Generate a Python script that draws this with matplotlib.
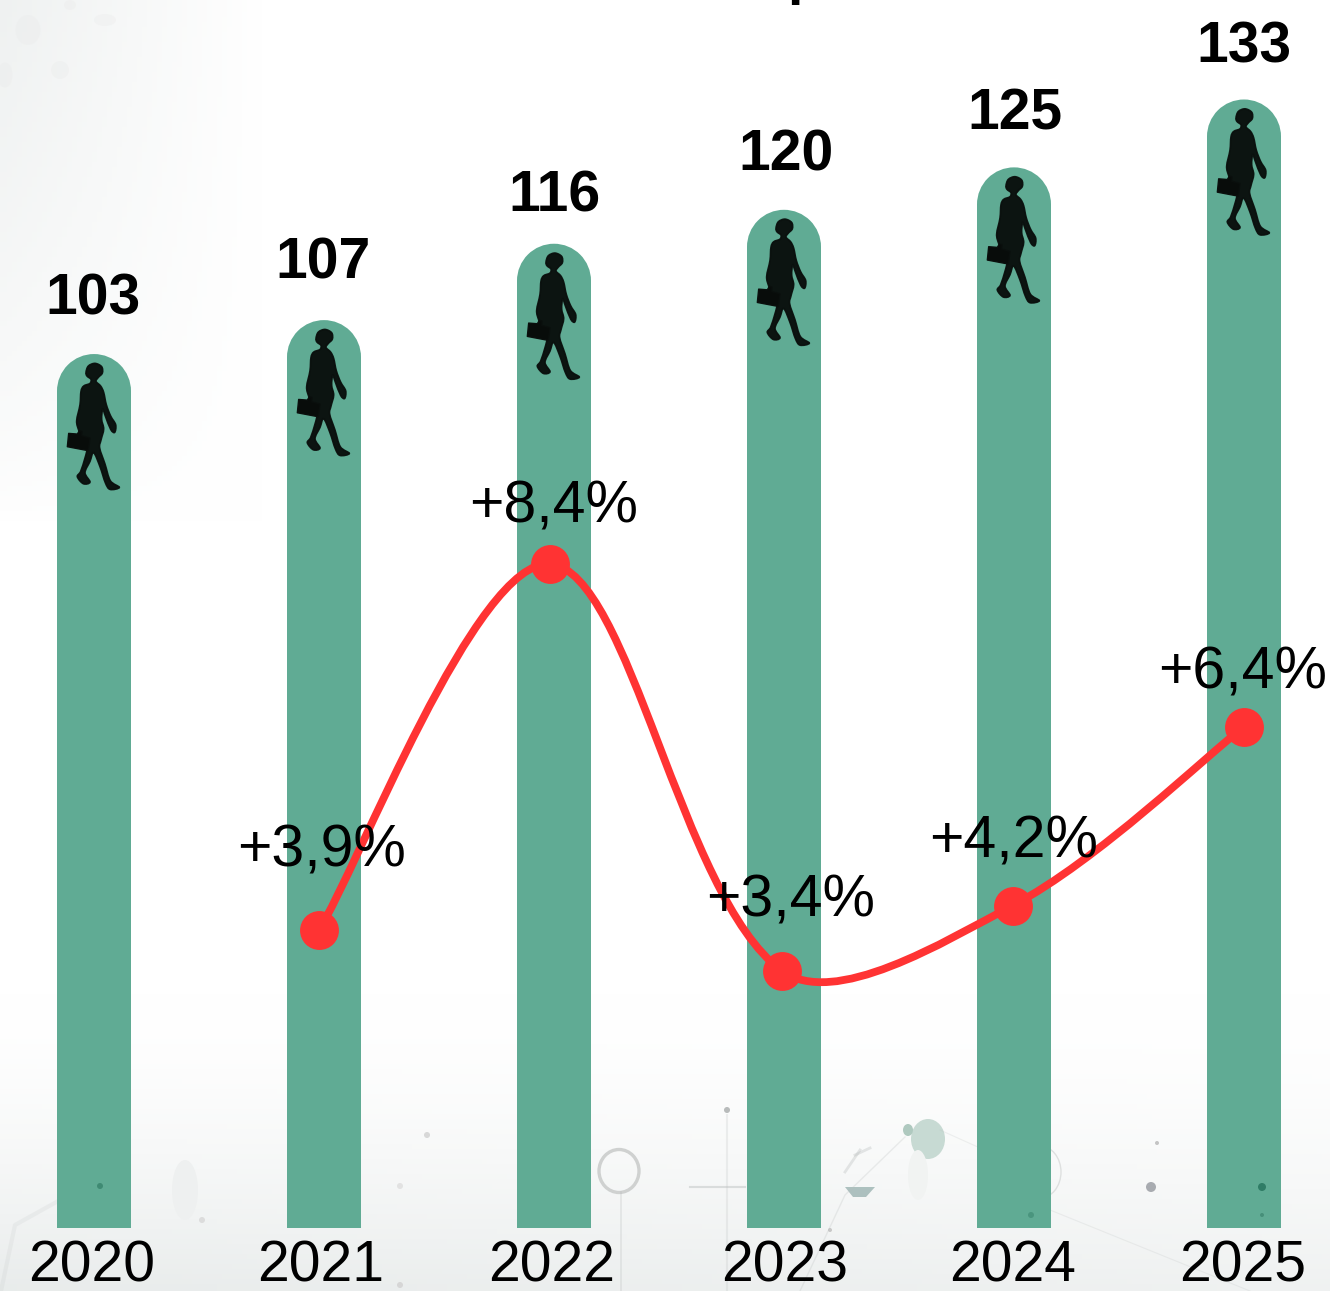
"""
Bars with a woman icon on top and a smoothed red growth line over them.
"""
import matplotlib
matplotlib.use("Agg")
import matplotlib.pyplot as plt
from matplotlib.patches import Ellipse, PathPatch, Polygon, Circle
from matplotlib.path import Path
from matplotlib.transforms import Affine2D
import numpy as np

plt.rcParams['font.family'] = ['Liberation Sans', 'DejaVu Sans']

# data
years = ["2020", "2021", "2022", "2023", "2024", "2025"]
totals = [103, 107, 116, 120, 125, 133]
growth_pos = [1, 2, 3, 4, 5]
growth = [3.9, 8.4, 3.4, 4.2, 6.4]
growth_labels = ["+3,9%", "+8,4%", "+3,4%", "+4,2%", "+6,4%"]

# label nudges in pixels, the source places them by hand
year_nudge = [-2, -3, -2, 1, -1, -1]
total_nudge = [(-1, 40), (-1, 42), (0, 32), (2, 39), (1, 38), (0, 37)]
growth_nudge = [(3, 63), (3, 42), (9, 54), (1, 48), (-1, 38)]

BAR = "#60AB94"
RED = "#FF3333"
W, H = 1330, 1291
BASE = 1228
PX_X = 231.25
PX_Y = 81.3

fig = plt.figure(figsize=(W / 100, H / 100), dpi=100)

# background, pale wash plus faint sketches, in pixel coordinates
bg = fig.add_axes([0, 0, 1, 1], zorder=0)
bg.set_xlim(0, W)
bg.set_ylim(H, 0)
bg.axis("off")
xx, yy = np.meshgrid(np.linspace(0, W, 266), np.linspace(0, H, 259))
fade = 15 * np.clip(1 - xx / 260, 0, 1) * np.clip(1 - yy / 520, 0, 1) ** 0.7
fade = fade + 21 * np.clip((yy - 1000) / 291, 0, 1) ** 1.6 * (1 - 0.3 * xx / W)
wash = np.dstack([255 - fade * 1.05, 255 - fade * 0.9, 255 - fade * 0.92])
bg.imshow(np.clip(wash, 0, 255).astype(np.uint8), extent=(0, W, H, 0), aspect="auto", interpolation="bilinear")
bg.set_xlim(0, W)
bg.set_ylim(H, 0)

sk = "#B9BDBD"
bg.add_patch(Ellipse((619, 1171), 40, 43, fc="none", ec="#CFD1D0", lw=2.4))
bg.plot([621, 621], [1192, 1291], color=sk, lw=1.2, alpha=0.3)
bg.plot([727, 727], [1115, 1291], color=sk, lw=1.5, alpha=0.22)
bg.plot([690, 745], [1187, 1187], color=sk, lw=1.5, alpha=0.45)
bg.add_patch(Ellipse((928, 1139), 34, 40, fc="#C7DAD3", ec="none"))
bg.add_patch(Ellipse((908, 1130), 10, 12, fc="#AFC9BF", ec="none"))
bg.add_patch(Ellipse((918, 1175), 20, 50, fc="#F1F3F2", ec="none"))
bg.plot([800, 845, 905], [1291, 1195, 1137], color=sk, lw=1, alpha=0.25)
bg.plot([855, 870], [1155, 1148], color=sk, lw=2, alpha=0.35)
bg.plot([845, 860], [1172, 1150], color=sk, lw=2, alpha=0.35)
bg.add_patch(Polygon([(845, 1187), (875, 1187), (866, 1197), (853, 1197)], fc="#8FAAA8", ec="none", alpha=0.7))
bg.add_patch(Ellipse((1040, 1172), 42, 52, fc="none", ec="#C6C9C8", lw=1, alpha=0.5))
bg.plot([940, 1040], [1130, 1175], color=sk, lw=0.8, alpha=0.2)
bg.plot([1050, 1250], [1210, 1291], color=sk, lw=0.8, alpha=0.2)
bg.plot([1, 15, 60, 95], [1291, 1225, 1200, 1195], color=sk, lw=3, alpha=0.15)
bg.add_patch(Ellipse((185, 1190), 26, 60, fc="#EEF0F0", ec="none"))
for px, py, rr, col in [(727, 1110, 3, "#B8BBBB"), (1151, 1187, 5, "#A8ABB0"), (1157, 1143, 2, "#C4C4C4"),
                        (427, 1135, 3, "#D8D8D8"), (400, 1186, 3, "#E2E2E2"), (202, 1220, 3, "#DCDCDC"),
                        (400, 1285, 3, "#D6D6D6"), (830, 1230, 2, "#C8C8C8"), (760, 1250, 2, "#D0D0D0")]:
    bg.add_patch(Circle((px, py), rr, fc=col, ec="none"))
for sx, sy, rx, ry in [(28, 30, 25, 30), (5, 75, 15, 25), (70, 5, 12, 10), (105, 20, 22, 12), (60, 70, 18, 18)]:
    bg.add_patch(Ellipse((sx, sy), rx, ry, fc="#E9E9E9", ec="none", alpha=0.3))

# bars
ax = fig.add_axes([0, (H - BASE) / H, 1, BASE / H], zorder=1, facecolor="none")
x = np.arange(len(years))
ax.set_xlim(-94 / 230, (W - 94) / 230)
ax.set_ylim(0, BASE / 8.485)
cap_w = 74 / 230
cap_h = 74 / 8.485
for xi, v in zip(x, totals):
    ax.bar(xi, v - cap_h / 2, width=cap_w, color=BAR, linewidth=0)
    ax.add_patch(Ellipse((xi, v - cap_h / 2), cap_w, cap_h, fc=BAR, ec="none"))
ax.set_xticks(x, years, fontsize=41, color="black")
ax.tick_params(axis="x", length=0, pad=8)
for lab, dx in zip(ax.get_xticklabels(), year_nudge):
    lab.set_transform(lab.get_transform() + Affine2D().translate(dx, 0))
ax.set_yticks([])
for s in ax.spines.values():
    s.set_visible(False)

# marks showing through the bars
for px, py, rr, col in [(100, 1186, 3, "#3F8A73"), (302, 1233, 4, "#519D85"), (1262, 1187, 4, "#2F7C66"),
                        (1262, 1215, 2, "#468F79"), (1031, 1215, 3, "#4A957E")]:
    bg_pt = ax.transData.inverted().transform(bg.transData.transform((px, py)))
    ax.add_patch(Ellipse(bg_pt, 2 * rr / 230, 2 * rr / 8.485, fc=col, ec="none"))


def smooth_closed(points):
    # closed curve through the outline points
    p = np.array(points, dtype=float)
    n = len(p)
    verts = [p[0]]
    codes = [Path.MOVETO]
    for i in range(n):
        a, b, c, d = p[i - 1], p[i], p[(i + 1) % n], p[(i + 2) % n]
        verts += [b + (c - a) / 6, c - (d - b) / 6, c]
        codes += [Path.CURVE4] * 3
    return Path(verts, codes)


# woman icon, outlined from the source at 3x, origin is the bar's top centre
figure_outline = [(138, 95), (145, 76), (165, 68), (185, 78), (187, 97), (175, 110), (168, 122), (182, 136), (191, 155),
                  (199, 192), (212, 226), (227, 252), (224, 275), (212, 266), (196, 226), (188, 205), (185, 236), (191, 265),
                  (183, 298), (179, 322), (195, 370), (211, 420), (238, 440), (210, 446), (196, 426), (180, 378), (161, 336),
                  (150, 362), (135, 396), (150, 424), (130, 429), (112, 408), (122, 392), (135, 352), (142, 322), (139, 300),
                  (124, 285), (116, 268), (110, 240), (120, 192), (123, 152), (131, 136), (150, 128), (153, 116), (141, 106)]
bag = [(86, 278), (112, 280), (118, 270), (126, 272), (125, 285), (150, 292), (145, 330), (82, 318)]
outline_path = smooth_closed(figure_outline)
for xi, v in zip(x, totals):
    tr = Affine2D().translate(-162, -40).scale(1 / 3, -1 / 3).translate(*ax.transData.transform((xi, v)))
    ax.add_patch(PathPatch(outline_path, fc="#080C0A", ec="#0A0F0D", lw=1.2, alpha=0.95, transform=tr))
    ax.add_patch(Polygon(bag, closed=True, fc="#080C0A", ec="#0A0F0D", lw=1, joinstyle="round", transform=tr))

for xi, v, lab, n in zip(x, totals, totals, total_nudge):
    ax.annotate(str(lab), (xi, v), xytext=n, textcoords="offset pixels", ha="center", va="baseline",
                fontsize=41, fontweight="bold", color="black", annotation_clip=False)

# growth line
ax2 = fig.add_axes([0, (H - BASE) / H, 1, BASE / H], zorder=2, facecolor="none")
ax2.set_xlim(1 - 319 / PX_X, 1 + (W - 319) / PX_X)
ax2.set_ylim((1247 - BASE) / PX_Y, 1247 / PX_Y)
ax2.axis("off")

# chart-style smoothing, handle lengths follow the on-screen segment lengths
pts = np.column_stack([growth_pos, growth]).astype(float)
scale = np.array([PX_X, PX_Y])
lens = np.hypot(*((pts[1:] - pts[:-1]) * scale).T)
verts = [pts[0]]
codes = [Path.MOVETO]
for i in range(len(pts) - 1):
    p0 = pts[max(i - 1, 0)]
    p1 = pts[i]
    p2 = pts[i + 1]
    p3 = pts[min(i + 2, len(pts) - 1)]
    d_prev = lens[i - 1] if i > 0 else lens[i]
    d_next = lens[i + 1] if i < len(lens) - 1 else lens[i]
    out = (p2 - p0) * lens[i] / (d_prev + lens[i]) / 3
    back = (p3 - p1) * lens[i] / (lens[i] + d_next) / 3
    verts += [p1 + out, p2 - back, p2]
    codes += [Path.CURVE4] * 3
ax2.add_patch(PathPatch(Path(verts, codes), fc="none", ec=RED, lw=5.6, capstyle="round"))
ax2.plot(growth_pos, growth, linestyle="none", marker="o", ms=28, mfc=RED, mec="none")
for px, v, lab, n in zip(growth_pos, growth, growth_labels, growth_nudge):
    ax2.annotate(lab, (px, v), xytext=n, textcoords="offset pixels", ha="center", va="baseline",
                 fontsize=42.5, color="black", annotation_clip=False)

# what is left of the cropped title
fig.text(787 / W, 1 + 7 / H, "p", fontsize=40, fontweight="bold", ha="left", va="baseline")

fig.savefig("out.png", dpi=100)
